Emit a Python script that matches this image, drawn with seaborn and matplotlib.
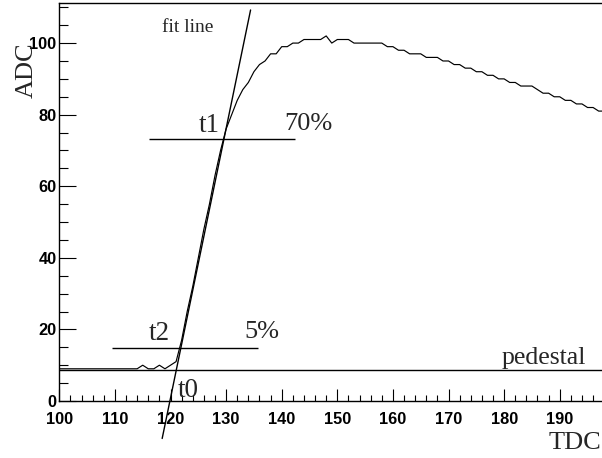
import numpy as np
import pandas as pd
import matplotlib
matplotlib.use("Agg")
import matplotlib.pyplot as plt
import seaborn as sns
from matplotlib.ticker import MultipleLocator

# ---- data ----
tdc = list(range(100, 199))
adc = ([9] * 14 +
       [9, 10, 9, 9, 10, 9, 10, 11,
        17, 25, 32, 40, 48, 55, 63, 70,
        76, 80, 84, 87, 89, 92, 94, 95, 97, 97,
        99, 99, 100, 100, 101, 101, 101, 101, 102, 100,
        101, 101, 101, 100, 100, 100, 100, 100, 100, 99,
        99, 98, 98, 97, 97, 97, 96, 96, 96, 95,
        95, 94, 94, 93, 93, 92, 92, 91, 91, 90,
        90, 89, 89, 88, 88, 88, 87, 86, 86, 85,
        85, 84, 84, 83, 83, 82, 82, 81, 81])

fit_p0 = -902.78
fit_p1 = 7.53
fit_x = [118.5, 134.4]

level_t1 = 73.2
level_t1_x = [116.2, 142.4]
level_t2 = 14.7
level_t2_x = [109.5, 135.7]
pedestal = 8.6

x_ticks = [100, 110, 120, 130, 140, 150, 160, 170, 180, 190]
y_ticks = [0, 20, 40, 60, 80, 100]

df = pd.DataFrame({"TDC": tdc, "ADC": adc})
fit_df = pd.DataFrame({"x": fit_x, "y": [fit_p0 + fit_p1 * v for v in fit_x]})

sns.set_theme(style="ticks")
serif = ["Liberation Serif", "DejaVu Serif"]
sans_bold = ["Liberation Sans", "DejaVu Sans"]

fig = plt.figure(figsize=(6.02, 4.58), dpi=100)
ax = fig.add_axes([59.3 / 602, 57 / 458, (602 - 59.3) / 602, 398 / 458])

sns.lineplot(data=df, x="TDC", y="ADC", ax=ax, color="black", linewidth=0.85)
sns.lineplot(data=fit_df, x="x", y="y", ax=ax, color="black", linewidth=1.0)
for l in ax.lines[-1:]:
    l.set_clip_on(False)

ax.hlines(level_t1, level_t1_x[0], level_t1_x[1], color="black", linewidth=1.0)
ax.hlines(level_t2, level_t2_x[0], level_t2_x[1], color="black", linewidth=1.0)
ax.axhline(pedestal, color="black", linewidth=1.0)

ax.set_xlim(100, 197.6)
ax.set_ylim(0, 111.2)

ax.set_xticks(x_ticks)
ax.set_yticks(y_ticks)
ax.xaxis.set_minor_locator(MultipleLocator(2))
ax.yaxis.set_minor_locator(MultipleLocator(5))
ax.tick_params(axis="x", which="major", direction="in", length=8.6, width=0.8, pad=8, colors="black")
ax.tick_params(axis="x", which="minor", direction="in", length=4.3, width=0.8, colors="black")
ax.tick_params(axis="y", which="major", direction="in", length=12.2, width=0.8, pad=2, colors="black")
ax.tick_params(axis="y", which="minor", direction="in", length=6.5, width=0.8, colors="black")
for lab in ax.get_xticklabels() + ax.get_yticklabels():
    lab.set_fontfamily(sans_bold)
    lab.set_fontweight("bold")
    lab.set_fontsize(11.8)

for side in ["left", "bottom", "top"]:
    ax.spines[side].set_visible(True)
    ax.spines[side].set_color("black")
    ax.spines[side].set_linewidth(1.0)
ax.spines["right"].set_visible(False)

ax.set_xlabel("")
ax.set_ylabel("")
ax.grid(False)

fig.text(601 / 602, 1 - 449 / 458, "TDC", ha="right", va="baseline",
         fontfamily=serif, fontsize=19)
fig.text(27 / 602, 1 - 70 / 458, "ADC", ha="center", va="center", rotation=90,
         fontfamily=serif, fontsize=19)

ax.text(118.4, 103.2, "fit line", fontfamily=serif, fontsize=14, ha="left", va="baseline")
ax.text(125.0, 75.1, "t1", fontfamily=serif, fontsize=19.5, ha="left", va="baseline")
ax.text(140.4, 75.7, "70%", fontfamily=serif, fontsize=19, ha="left", va="baseline")
ax.text(116.1, 17.0, "t2", fontfamily=serif, fontsize=19.5, ha="left", va="baseline")
ax.text(133.2, 17.5, "5%", fontfamily=serif, fontsize=19, ha="left", va="baseline")
ax.text(121.3, 1.2, "t0", fontfamily=serif, fontsize=19.5, ha="left", va="baseline")
ax.text(179.5, 10.2, "pedestal", fontfamily=serif, fontsize=18.5, ha="left", va="baseline")

fig.savefig("out.png", dpi=100)
